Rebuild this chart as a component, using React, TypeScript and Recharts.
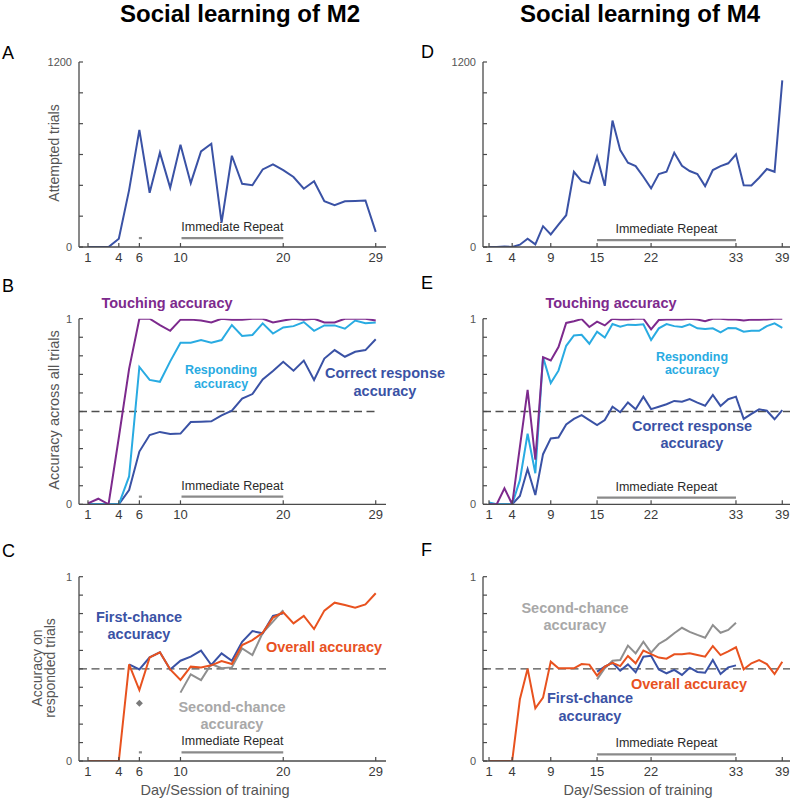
import React from 'react';
import { LineChart, Line, XAxis, YAxis, ReferenceLine, ReferenceDot } from 'recharts';

// ---------- data ----------
const daysM2 = [1, 2, 3, 4, 5, 6, 7, 8, 9, 10, 11, 12, 13, 14, 15, 16, 17, 18, 19, 20, 21, 22, 23, 24, 25, 26, 27, 28, 29];
const attemptedM2 = [0, 0, 0, 54, 369, 760, 352, 612, 384, 664, 414, 620, 670, 158, 592, 410, 401, 503, 536, 499, 454, 378, 427, 297, 271, 297, 299, 302, 98];
const touchingM2 = [0.005, 0.03, 0, 0.36, 0.73, 1.0, 1.0, 0.965, 0.935, 0.995, 0.995, 0.99, 0.98, 1.0, 0.995, 0.995, 1.0, 1.0, 0.98, 0.99, 1.0, 0.995, 1.0, 0.98, 0.98, 1.0, 1.0, 1.0, 0.99];
const respondingM2 = [0, 0, 0, 0, 0.15, 0.74, 0.67, 0.66, 0.77, 0.87, 0.87, 0.885, 0.87, 0.885, 0.966, 0.907, 0.912, 0.975, 0.92, 0.953, 0.96, 0.982, 0.935, 0.964, 0.964, 0.946, 0.99, 0.975, 0.98];
const correctM2 = [0, 0, 0, 0, 0.077, 0.284, 0.373, 0.39, 0.379, 0.381, 0.443, 0.445, 0.447, 0.479, 0.504, 0.569, 0.594, 0.673, 0.718, 0.768, 0.72, 0.774, 0.67, 0.785, 0.831, 0.795, 0.822, 0.831, 0.889];
const overallM2 = [0, 0, 0, 0, 0.524, 0.385, 0.562, 0.59, 0.497, 0.44, 0.512, 0.508, 0.519, 0.542, 0.526, 0.629, 0.656, 0.696, 0.778, 0.807, 0.747, 0.787, 0.716, 0.816, 0.859, 0.846, 0.832, 0.85, 0.91];
const firstChanceM2 = [null, null, null, null, 0.524, 0.497, 0.562, 0.59, 0.497, 0.544, 0.566, 0.599, 0.521, 0.584, 0.544, 0.647, 0.705, 0.693, 0.787, 0.801, null, null, null, null, null, null, null, null, null];
const secondChanceM2 = [null, null, null, null, null, null, null, null, null, 0.371, 0.47, 0.439, 0.526, 0.503, 0.508, 0.611, 0.575, 0.696, 0.756, 0.819, null, null, null, null, null, null, null, null, null];
const secondChanceDay6M2 = { day: 6, value: 0.313 };

const daysM4 = [1, 2, 3, 4, 5, 6, 7, 8, 9, 10, 11, 12, 13, 14, 15, 16, 17, 18, 19, 20, 21, 22, 23, 24, 25, 26, 27, 28, 29, 30, 31, 32, 33, 34, 35, 36, 37, 38, 39];
const attemptedM4 = [0, 0, 4, 0, 15, 54, 17, 135, 82, 145, 206, 488, 427, 414, 586, 397, 820, 629, 547, 525, 456, 380, 473, 488, 612, 527, 493, 473, 395, 499, 525, 543, 601, 401, 399, 449, 506, 488, 1081];
const touchingM4 = [0, 0, 0.086, 0, 0.31, 0.617, 0.24, 0.793, 0.775, 0.847, 0.977, 0.986, 0.998, 0.955, 0.984, 0.964, 1.0, 0.996, 0.996, 1.0, 1.0, 0.943, 0.993, 0.996, 0.996, 0.996, 1.0, 0.996, 0.986, 1.0, 1.0, 0.996, 0.996, 0.99, 0.995, 0.995, 0.996, 1.0, 1.0];
const respondingM4 = [0.01, 0, 0, 0, 0.13, 0.38, 0.167, 0.793, 0.653, 0.72, 0.854, 0.91, 0.913, 0.865, 0.93, 0.898, 0.971, 0.957, 0.968, 0.966, 0.97, 0.885, 0.948, 0.971, 0.96, 0.955, 0.97, 0.948, 0.944, 0.948, 0.926, 0.95, 0.948, 0.93, 0.935, 0.935, 0.96, 0.975, 0.95];
const correctM4 = [0, 0, 0, 0, 0.045, 0.19, 0.05, 0.27, 0.355, 0.36, 0.43, 0.46, 0.48, 0.454, 0.427, 0.454, 0.526, 0.496, 0.549, 0.512, 0.58, 0.513, 0.526, 0.539, 0.557, 0.553, 0.567, 0.548, 0.531, 0.589, 0.53, 0.566, 0.58, 0.46, 0.487, 0.512, 0.504, 0.458, 0.508];
const overallM4 = [0, 0, 0, 0, 0.335, 0.501, 0.286, 0.344, 0.539, 0.503, 0.503, 0.503, 0.526, 0.523, 0.463, 0.512, 0.533, 0.515, 0.57, 0.53, 0.599, 0.58, 0.561, 0.555, 0.579, 0.579, 0.584, 0.575, 0.566, 0.624, 0.575, 0.595, 0.617, 0.497, 0.53, 0.548, 0.526, 0.472, 0.539];
const firstChanceM4 = [null, null, null, null, null, null, null, null, null, null, null, null, null, null, 0.485, 0.512, 0.533, 0.49, 0.524, 0.481, 0.566, 0.571, 0.497, 0.476, 0.494, 0.467, 0.506, 0.483, 0.479, 0.548, 0.472, 0.508, 0.519, null, null, null, null, null, null];
const secondChanceM4 = [null, null, null, null, null, null, null, null, null, null, null, null, null, null, 0.443, 0.503, 0.544, 0.548, 0.626, 0.584, 0.647, 0.588, 0.635, 0.66, 0.693, 0.723, 0.701, 0.684, 0.669, 0.738, 0.696, 0.711, 0.75, null, null, null, null, null, null];

const xTicksM2 = [1, 4, 6, 10, 20, 29];
const xTicksM4 = [1, 4, 9, 15, 22, 33, 39];
const yTicksTrials = [0, 200, 400, 600, 800, 1000, 1200];
const yTicksAcc = [0, 0.1, 0.2, 0.3, 0.4, 0.5, 0.6, 0.7, 0.8, 0.9, 1];
const repeatM2 = [10.1, 20];
const repeatMarkM2 = [5.95, 6.25];
const repeatM4 = [15, 33];
const chanceLevel = 0.5;

const tableM2 = daysM2.map((d, i) => ({
  day: d,
  attempted: attemptedM2[i],
  touching: touchingM2[i],
  responding: respondingM2[i],
  correct: correctM2[i],
  overall: overallM2[i],
  first: firstChanceM2[i],
  second: secondChanceM2[i],
}));
const tableM4 = daysM4.map((d, i) => ({
  day: d,
  attempted: attemptedM4[i],
  touching: touchingM4[i],
  responding: respondingM4[i],
  correct: correctM4[i],
  overall: overallM4[i],
  first: firstChanceM4[i],
  second: secondChanceM4[i],
}));

// ---------- style ----------
const W = 791;
const H = 799;
const FONT = '"Liberation Sans", Arial, Helvetica, sans-serif';
const AXIS = '#4a4a4a';
const C_DARK = '#3a52a5';
const C_PURPLE = '#7d2a8d';
const C_LIGHT = '#29abe2';
const C_ORANGE = '#e8521f';
const C_GRAY = '#8f8f8f';
const C_GRAYTXT = '#a8a8a8';
const C_BAR = '#8a8a8a';
const AX_W = 1; // axis box size used by recharts

const XTick = (props: any) => {
  const { x, y, payload } = props;
  return (
    <g>
      <line x1={x} x2={x} y1={y} y2={y - 4} stroke={AXIS} strokeWidth={1.2} />
      <text x={x} y={y + 14.5} textAnchor="middle" fontSize={13} fill="#3a3a3a" fontFamily={FONT}>
        {payload.value}
      </text>
    </g>
  );
};

const makeYTick = (domain: number[]) => (props: any) => {
  const { x, y, payload } = props;
  const v = payload.value;
  const show = v === domain[0] || v === domain[1];
  return (
    <g>
      <line x1={x} x2={x + 4} y1={y} y2={y} stroke={AXIS} strokeWidth={1.2} />
      {show && (
        <text x={x - 7} y={y + 4} textAnchor="end" fontSize={11} fill="#555555" fontFamily={FONT}>
          {v}
        </text>
      )}
    </g>
  );
};

type Box = { left: number; top: number; right: number; bottom: number };

function Panel(props: { data: any[]; box: Box; xDomain: number[]; xTicks: number[]; yDomain: number[]; yTicks: number[]; children: any }) {
  const { data, box, xDomain, xTicks, yDomain, yTicks, children } = props;
  return (
    <div style={{ position: 'absolute', left: 0, top: 0, width: W, height: H }}>
      <LineChart
        width={W}
        height={H}
        data={data}
        margin={{ top: box.top, left: box.left - AX_W, right: W - box.right, bottom: H - box.bottom - AX_W }}
      >
        <XAxis
          type="number"
          dataKey="day"
          domain={xDomain}
          ticks={xTicks}
          interval={0}
          height={AX_W}
          tickSize={0}
          tickMargin={0}
          tickLine={false}
          tick={XTick}
          stroke={AXIS}
          axisLine={{ stroke: AXIS, strokeWidth: 1.3 }}
          allowDataOverflow
        />
        <YAxis
          type="number"
          domain={yDomain}
          ticks={yTicks}
          interval={0}
          width={AX_W}
          tickSize={0}
          tickMargin={0}
          tickLine={false}
          tick={makeYTick(yDomain)}
          stroke={AXIS}
          axisLine={{ stroke: AXIS, strokeWidth: 1.3 }}
          allowDataOverflow
        />
        {children}
      </LineChart>
    </div>
  );
}

const ser = (key: string, color: string) => (
  <Line
    key={key}
    type="linear"
    dataKey={key}
    stroke={color}
    strokeWidth={2}
    dot={false}
    activeDot={false}
    isAnimationActive={false}
    connectNulls={false}
  />
);

const repeatBar = (range: number[], y: number, withLabel: boolean, key: string) => (
  <ReferenceLine
    key={key}
    segment={[{ x: range[0], y }, { x: range[1], y }]}
    stroke={C_BAR}
    strokeWidth={2.2}
    ifOverflow="visible"
    label={withLabel ? { value: 'Immediate Repeat', position: 'top', offset: 7, fill: '#2a2a2a', fontSize: 12.5, fontFamily: FONT } : undefined}
  />
);

const diamond = (p: any) => {
  const { cx, cy } = p;
  const r = 3.5;
  return <polygon points={`${cx},${cy - r} ${cx + r},${cy} ${cx},${cy + r} ${cx - r},${cy}`} fill="#7a7a7a" />;
};

const L: Box = { left: 79, top: 0, right: 386, bottom: 0 };
const R: Box = { left: 483, top: 0, right: 790, bottom: 0 };
const boxA: Box = { ...L, top: 62, bottom: 247 };
const boxB: Box = { ...L, top: 318.7, bottom: 504.3 };
const boxC: Box = { ...L, top: 576.7, bottom: 761 };
const boxD: Box = { ...R, top: 62, bottom: 247 };
const boxE: Box = { ...R, top: 318.7, bottom: 504.3 };
const boxF: Box = { ...R, top: 576.7, bottom: 761 };
const xDomM2 = [0.125, 30];
const xDomM4 = [0.22, 40];
const yDomTrials = [0, 1200];
const yDomAcc = [0, 1];

const dash = { stroke: '#4f4f4f', strokeWidth: 1.3, strokeDasharray: '8 4.5' };

function T(p: { x: number; y: number; c: string; s?: number; w?: any; children: any; a?: any }) {
  return (
    <text x={p.x} y={p.y} fill={p.c} fontSize={p.s ?? 14.5} fontWeight={p.w ?? 'bold'} textAnchor={p.a ?? 'middle'} fontFamily={FONT}>
      {p.children}
    </text>
  );
}

export default function App() {
  return (
    <div style={{ position: 'absolute', left: 0, top: 0, width: W, height: H, background: '#fff', overflow: 'hidden' }}>
      {/* A */}
      <Panel data={tableM2} box={boxA} xDomain={xDomM2} xTicks={xTicksM2} yDomain={yDomTrials} yTicks={yTicksTrials}>
        {repeatBar(repeatM2, 58, true, 'rb')}
        {repeatBar(repeatMarkM2, 58, false, 'rm')}
        {ser('attempted', C_DARK)}
      </Panel>
      {/* B */}
      <Panel data={tableM2} box={boxB} xDomain={xDomM2} xTicks={xTicksM2} yDomain={yDomAcc} yTicks={yTicksAcc}>
        <ReferenceLine segment={[{ x: xDomM2[0], y: chanceLevel }, { x: 29, y: chanceLevel }]} {...dash} />
        {repeatBar(repeatM2, 0.041, true, 'rb')}
        {repeatBar(repeatMarkM2, 0.041, false, 'rm')}
        {ser('correct', C_DARK)}
        {ser('responding', C_LIGHT)}
        {ser('touching', C_PURPLE)}
      </Panel>
      {/* C */}
      <Panel data={tableM2} box={boxC} xDomain={xDomM2} xTicks={xTicksM2} yDomain={yDomAcc} yTicks={yTicksAcc}>
        <ReferenceLine y={chanceLevel} {...dash} />
        {repeatBar(repeatM2, 0.047, true, 'rb')}
        {repeatBar(repeatMarkM2, 0.047, false, 'rm')}
        <ReferenceDot x={secondChanceDay6M2.day} y={secondChanceDay6M2.value} r={3.5} shape={diamond} />
        {ser('second', C_GRAY)}
        {ser('first', C_DARK)}
        {ser('overall', C_ORANGE)}
      </Panel>
      {/* D */}
      <Panel data={tableM4} box={boxD} xDomain={xDomM4} xTicks={xTicksM4} yDomain={yDomTrials} yTicks={yTicksTrials}>
        {repeatBar(repeatM4, 45, true, 'rb')}
        {ser('attempted', C_DARK)}
      </Panel>
      {/* E */}
      <Panel data={tableM4} box={boxE} xDomain={xDomM4} xTicks={xTicksM4} yDomain={yDomAcc} yTicks={yTicksAcc}>
        <ReferenceLine y={chanceLevel} {...dash} />
        {repeatBar(repeatM4, 0.036, true, 'rb')}
        {ser('correct', C_DARK)}
        {ser('responding', C_LIGHT)}
        {ser('touching', C_PURPLE)}
      </Panel>
      {/* F */}
      <Panel data={tableM4} box={boxF} xDomain={xDomM4} xTicks={xTicksM4} yDomain={yDomAcc} yTicks={yTicksAcc}>
        <ReferenceLine y={chanceLevel} {...dash} />
        {repeatBar(repeatM4, 0.036, true, 'rb')}
        {ser('second', C_GRAY)}
        {ser('first', C_DARK)}
        {ser('overall', C_ORANGE)}
      </Panel>

      {/* text overlay */}
      <svg width={W} height={H} style={{ position: 'absolute', left: 0, top: 0, pointerEvents: 'none' }}>
        <T x={240} y={21.5} c="#000" s={24}>Social learning of M2</T>
        <T x={640} y={21.5} c="#000" s={24}>Social learning of M4</T>

        <T x={2} y={59} c="#000" s={18} w="normal" a="start">A</T>
        <T x={421} y={58} c="#000" s={18} w="normal" a="start">D</T>
        <T x={2} y={292} c="#000" s={18} w="normal" a="start">B</T>
        <T x={421} y={289} c="#000" s={18} w="normal" a="start">E</T>
        <T x={2} y={557} c="#000" s={18} w="normal" a="start">C</T>
        <T x={421} y={556} c="#000" s={18} w="normal" a="start">F</T>

        <g transform="translate(59,153) rotate(-90)">
          <T x={0} y={0} c="#555" s={14} w="normal">Attempted trials</T>
        </g>
        <g transform="translate(59,410) rotate(-90)">
          <T x={0} y={0} c="#555" s={14.5} w="normal">Accuracy across all trials</T>
        </g>
        <g transform="translate(41.5,668) rotate(-90)">
          <T x={0} y={0} c="#555" s={14} w="normal">Accuracy on</T>
        </g>
        <g transform="translate(54.5,668) rotate(-90)">
          <T x={0} y={0} c="#555" s={14} w="normal">responded trials</T>
        </g>

        <T x={215} y={795} c="#555" s={14.5} w="normal">Day/Session of training</T>
        <T x={638} y={795} c="#555" s={14.5} w="normal">Day/Session of training</T>

        {/* B labels */}
        <T x={167} y={308} c={C_PURPLE}>Touching accuracy</T>
        <T x={221} y={374} c={C_LIGHT} s={12.5}>Responding</T>
        <T x={221} y={387.5} c={C_LIGHT} s={12.5}>accuracy</T>
        <T x={385} y={378} c={C_DARK}>Correct response</T>
        <T x={385} y={396} c={C_DARK}>accuracy</T>

        {/* E labels */}
        <T x={611} y={308} c={C_PURPLE}>Touching accuracy</T>
        <T x={692} y={361} c={C_LIGHT} s={12.5}>Responding</T>
        <T x={692} y={373.5} c={C_LIGHT} s={12.5}>accuracy</T>
        <T x={692} y={431} c={C_DARK}>Correct response</T>
        <T x={692} y={448} c={C_DARK}>accuracy</T>

        {/* C labels */}
        <T x={139} y={622} c={C_DARK}>First-chance</T>
        <T x={139} y={639} c={C_DARK}>accuracy</T>
        <T x={324} y={652} c={C_ORANGE}>Overall accuracy</T>
        <T x={232} y={712} c={C_GRAYTXT}>Second-chance</T>
        <T x={232} y={729} c={C_GRAYTXT}>accuracy</T>

        {/* F labels */}
        <T x={575} y={613} c={C_GRAYTXT}>Second-chance</T>
        <T x={575} y={630} c={C_GRAYTXT}>accuracy</T>
        <T x={689} y={689} c={C_ORANGE}>Overall accuracy</T>
        <T x={590} y={703} c={C_DARK}>First-chance</T>
        <T x={590} y={721} c={C_DARK}>accuracy</T>
      </svg>
    </div>
  );
}
